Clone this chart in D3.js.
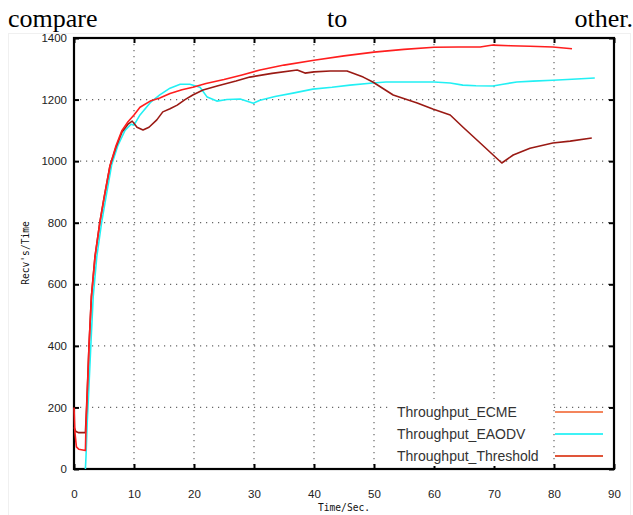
<!DOCTYPE html>
<html>
<head>
<meta charset="utf-8">
<script src="https://cdn.jsdelivr.net/npm/d3@7"></script>
<style>
  body { margin: 0; background: #fff; }
</style>
</head>
<body>
<svg id="graph" width="633" height="515"></svg>
<script>
// series: [time, recv's]
var ecmeData = [[0,200],[0.15,120],[0.4,72],[0.8,64],[1.9,60],[2.0,140],[2.2,240],[2.5,400],[2.9,560],[3.5,690],[4.3,800],[5,880],[6,985],[7,1050],[8,1100],[9,1128],[10,1150],[11,1175],[12.7,1195],[14.3,1205],[16,1220],[18,1232],[19.8,1240],[22,1252],[25,1265],[28,1280],[31,1296],[35,1312],[40,1328],[45,1342],[50,1354],[55,1363],[60,1370],[64,1371],[67.7,1371],[69.8,1377],[72.7,1375],[76,1373],[79.8,1371],[83,1365]];

var eaodvData = [[1.9,0],[2.0,40],[2.2,150],[2.4,230],[2.8,400],[3.2,560],[3.8,690],[4.6,800],[5.3,880],[6.3,990],[7.3,1050],[8.5,1100],[9.5,1120],[10,1117],[11,1150],[12.7,1190],[14.3,1215],[16,1237],[17.7,1250],[19.3,1250],[21,1240],[22.2,1208],[23.8,1195],[25.5,1200],[27.7,1202],[29.9,1188],[31,1198],[33.5,1210],[36.5,1221],[39.8,1234],[43,1240],[46,1247],[49.8,1254],[52,1257],[56,1257],[60,1257],[62.7,1254],[64.8,1247],[67,1245],[69.8,1244],[71.5,1250],[73.8,1257],[76.5,1260],[79.8,1263],[83,1266],[86.8,1270]];

var thresholdData = [[0,135],[0.3,122],[0.8,118],[1.9,118],[2.0,160],[2.2,250],[2.5,400],[2.9,560],[3.5,690],[4.3,800],[5,880],[6,985],[7,1045],[8,1095],[9,1120],[9.7,1130],[10.5,1110],[11.5,1101],[12.5,1110],[13.8,1134],[14.8,1160],[16,1170],[17.2,1182],[18.5,1200],[19.8,1215],[21.5,1231],[24,1245],[27,1260],[29.3,1273],[33,1285],[37.2,1296],[38.5,1286],[40,1290],[42.7,1293],[45.5,1293],[48.2,1273],[49.8,1257],[53.2,1215],[57.2,1189],[59.8,1169],[62.7,1150],[64.8,1111],[67.7,1059],[71.3,994],[73.2,1020],[76,1042],[79.8,1059],[82.7,1065],[86.3,1075]];

var seriesNames = ["Throughput_ECME", "Throughput_EAODV", "Throughput_Threshold"];
var xTicks = [0, 10, 20, 30, 40, 50, 60, 70, 80, 90];
var yTicks = [0, 200, 400, 600, 800, 1000, 1200, 1400];

var margin = {top: 38, right: 19, bottom: 46, left: 74},
    width = 633 - margin.left - margin.right,
    height = 515 - margin.top - margin.bottom;

var svg = d3.select("#graph");

// text line above the chart
var caption = svg.append("g")
    .style("font-family", "'Liberation Serif', 'Times New Roman', serif")
    .style("font-size", "26px")
    .attr("fill", "#000");
caption.append("text").attr("x", 8).attr("y", 27).text("compare");
caption.append("text").attr("x", 327).attr("y", 27).text("to");
caption.append("text").attr("x", 633).attr("y", 27).attr("text-anchor", "end").text("other.");

// faint frame of the pasted picture
svg.append("rect")
    .attr("x", 8.5).attr("y", 33.5)
    .attr("width", 622).attr("height", 490)
    .attr("fill", "none")
    .attr("stroke", "#f0f0f0");

var g = svg.append("g")
    .attr("transform", "translate(" + margin.left + "," + margin.top + ")");

var x = d3.scaleLinear().domain([0, 90]).range([0, width]);
var y = d3.scaleLinear().domain([0, 1400]).range([height, 0]);

// dotted grid
g.append("g")
    .selectAll("line")
    .data(xTicks.slice(1, -1))
    .enter().append("line")
    .attr("x1", function(d) { return x(d); })
    .attr("x2", function(d) { return x(d); })
    .attr("y1", 0).attr("y2", height)
    .attr("stroke", "#666")
    .attr("stroke-width", 1.2)
    .attr("stroke-dasharray", "1.2,4.8");

g.append("g")
    .selectAll("line")
    .data(yTicks.slice(1, -1))
    .enter().append("line")
    .attr("y1", function(d) { return y(d); })
    .attr("y2", function(d) { return y(d); })
    .attr("x1", 0).attr("x2", width)
    .attr("stroke", "#666")
    .attr("stroke-width", 1.2)
    .attr("stroke-dasharray", "1.2,4.8");

// axes with inward ticks
var tickFont = "'Liberation Sans', Arial, sans-serif";

g.append("g")
    .attr("transform", "translate(0," + height + ")")
    .call(d3.axisBottom(x).tickValues(xTicks).tickFormat(d3.format("d"))
        .tickSizeInner(-5).tickSizeOuter(0).tickPadding(21));
g.append("g")
    .call(d3.axisLeft(y).tickValues(yTicks).tickFormat(d3.format("d"))
        .tickSizeInner(-5).tickSizeOuter(0).tickPadding(7));
g.append("g")
    .call(d3.axisTop(x).tickValues(xTicks).tickSizeInner(-5).tickSizeOuter(0).tickFormat(""));
g.append("g")
    .attr("transform", "translate(" + width + ",0)")
    .call(d3.axisRight(y).tickValues(yTicks).tickSizeInner(-5).tickSizeOuter(0).tickFormat(""));

g.selectAll(".domain").remove();
g.selectAll(".tick line").attr("stroke", "#000").attr("stroke-width", 2);
g.selectAll(".tick text")
    .attr("fill", "#222")
    .style("font-family", tickFont)
    .style("font-size", "11.5px");

// plot frame
g.append("rect")
    .attr("x", 0).attr("y", 0)
    .attr("width", width).attr("height", height)
    .attr("fill", "none")
    .attr("stroke", "#000")
    .attr("stroke-width", 2.2);

// series
var line = d3.line()
    .x(function(d) { return x(d[0]); })
    .y(function(d) { return y(d[1]); });

var series = [
    {name: seriesNames[0], data: ecmeData, color: "#ff1e1e", key: "#f4855c"},
    {name: seriesNames[1], data: eaodvData, color: "#22f0f4", key: "#3ff2f6"},
    {name: seriesNames[2], data: thresholdData, color: "#9a1a14", key: "#e0553a"}
];

var drawOrder = [series[1], series[2], series[0]];
g.append("g")
    .selectAll("path")
    .data(drawOrder)
    .enter().append("path")
    .attr("d", function(d) { return line(d.data); })
    .attr("fill", "none")
    .attr("stroke", function(d) { return d.color; })
    .attr("stroke-width", 1.6)
    .attr("stroke-linejoin", "round");

// axis titles
var monoFont = "'DejaVu Sans Mono', 'Liberation Mono', monospace";
svg.append("text")
    .attr("x", 344).attr("y", 511)
    .attr("text-anchor", "middle")
    .style("font-family", monoFont)
    .style("font-size", "9.6px")
    .attr("fill", "#111")
    .text("Time/Sec.");

svg.append("text")
    .attr("transform", "translate(29,253) rotate(-90)")
    .attr("text-anchor", "middle")
    .style("font-family", monoFont)
    .style("font-size", "9.6px")
    .attr("fill", "#111")
    .text("Recv's/Time");

// legend
var legend = g.append("g")
    .attr("transform", "translate(" + (397 - margin.left) + "," + (412 - margin.top) + ")");

legend.append("rect")
    .attr("x", -5).attr("y", -13)
    .attr("width", 160).attr("height", 67)
    .attr("fill", "#fff");

var rows = legend.selectAll("g.row")
    .data(series)
    .enter().append("g")
    .attr("class", "row")
    .attr("transform", function(d, i) { return "translate(0," + (i * 22) + ")"; });

rows.append("text")
    .attr("x", 0).attr("y", 0)
    .attr("dy", "0.35em")
    .style("font-family", tickFont)
    .style("font-size", "14px")
    .attr("fill", "#333")
    .text(function(d) { return d.name; });

rows.append("line")
    .attr("x1", 158).attr("x2", 206)
    .attr("y1", 0).attr("y2", 0)
    .attr("stroke", function(d) { return d.key; })
    .attr("stroke-width", 2.2);
</script>
</body>
</html>
